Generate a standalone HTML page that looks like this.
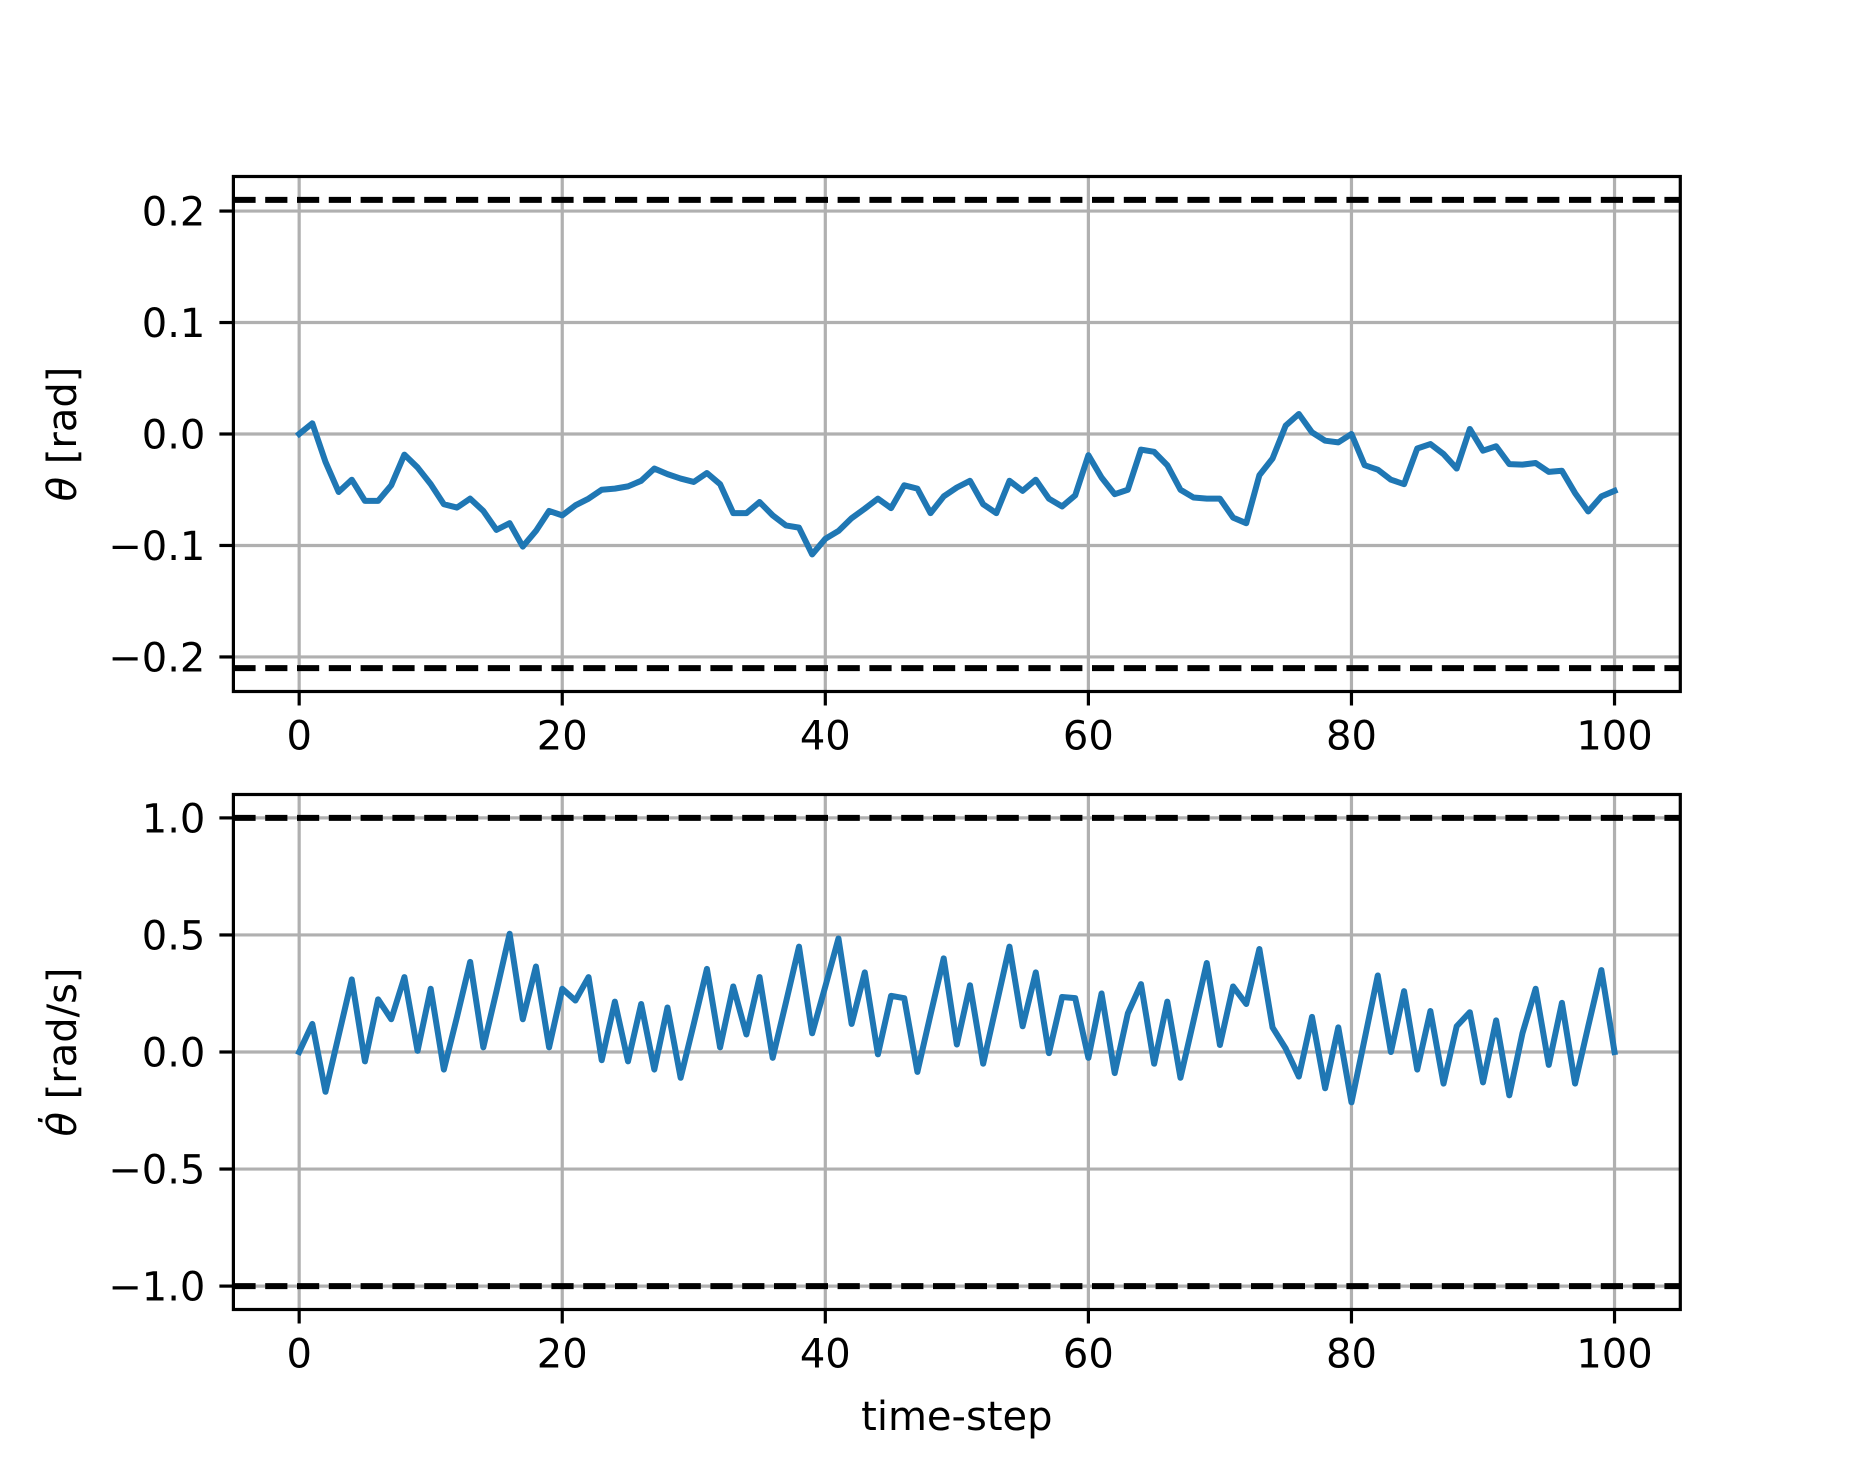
<!DOCTYPE html>
<html><head><meta charset="utf-8"><style>
html,body{margin:0;padding:0;background:#fff;}
svg{display:block;font-family:"DejaVu Sans","Liberation Sans",sans-serif;}
</style></head><body>
<svg id="fig" width="1867" height="1471" viewBox="0 0 1867 1471" xmlns="http://www.w3.org/2000/svg">
<rect width="1867" height="1471" fill="#fff"/>
</svg>
<script>
const steps = Array.from({length:101},(_,i)=>i);
const thetaValues = [0,0.0096,-0.025,-0.052,-0.041,-0.060,-0.060,-0.046,-0.0185,-0.030,-0.045,-0.063,-0.066,-0.058,-0.069,-0.086,-0.080,-0.101,-0.087,-0.069,-0.073,-0.064,-0.058,-0.050,-0.049,-0.047,-0.042,-0.031,-0.036,-0.040,-0.043,-0.035,-0.045,-0.071,-0.071,-0.061,-0.073,-0.082,-0.084,-0.108,-0.094,-0.087,-0.0755,-0.067,-0.058,-0.0665,-0.046,-0.049,-0.071,-0.056,-0.048,-0.042,-0.063,-0.071,-0.042,-0.051,-0.041,-0.058,-0.065,-0.055,-0.019,-0.039,-0.054,-0.050,-0.014,-0.016,-0.028,-0.050,-0.057,-0.058,-0.058,-0.075,-0.080,-0.037,-0.022,0.0075,0.018,0.0015,-0.006,-0.0075,0,-0.028,-0.032,-0.041,-0.045,-0.013,-0.009,-0.018,-0.031,0.0045,-0.015,-0.011,-0.027,-0.0275,-0.026,-0.034,-0.033,-0.053,-0.0695,-0.056,-0.051];
const thetaDotValues = [0,0.12,-0.17,0.07,0.31,-0.04,0.225,0.14,0.32,0.005,0.27,-0.075,0.15,0.385,0.02,0.26,0.505,0.14,0.365,0.02,0.27,0.22,0.32,-0.035,0.215,-0.04,0.205,-0.075,0.19,-0.11,0.12,0.355,0.02,0.28,0.075,0.32,-0.025,0.21,0.45,0.08,0.28,0.485,0.12,0.34,-0.01,0.24,0.23,-0.085,0.16,0.40,0.032,0.285,-0.05,0.2,0.45,0.11,0.34,-0.005,0.235,0.23,-0.025,0.25,-0.09,0.165,0.29,-0.05,0.215,-0.11,0.135,0.38,0.03,0.28,0.205,0.44,0.105,0.015,-0.105,0.15,-0.155,0.105,-0.215,0.055,0.327,0,0.26,-0.075,0.175,-0.135,0.11,0.17,-0.13,0.135,-0.185,0.08,0.27,-0.055,0.21,-0.135,0.11,0.35,0];
const xTicks = [0,20,40,60,80,100];
const thetaTicks = [-0.2,-0.1,0,0.1,0.2];
const thetaTickLabels = ["\u22120.2","\u22120.1","0.0","0.1","0.2"];
const thetaDotTicks = [-1,-0.5,0,0.5,1];
const thetaDotTickLabels = ["\u22121.0","\u22120.5","0.0","0.5","1.0"];
const thetaLimits = [-0.21,0.21];
const thetaDotLimits = [-1,1];

const NS="http://www.w3.org/2000/svg";
const svg=document.getElementById('fig');
function mk(tag,attrs,parent){const e=document.createElementNS(NS,tag);for(const k in attrs)e.setAttribute(k,attrs[k]);(parent||svg).appendChild(e);return e;}

const L=233.4,R=1680.3;
function panel(name,top,bot,ylo,yhi,yTicks,yLabels,vals,limits,ylabel){
  const g=mk('g',{});
  
  
  const xs=v=>L+(v+5)/110*(R-L);
  const ys=v=>bot-(v-ylo)/(yhi-ylo)*(bot-top);
  // grid
  xTicks.forEach(t=>{const l=mk('line',{x1:xs(t),x2:xs(t),y1:top,y2:bot,stroke:'#b0b0b0','stroke-width':3.2},g);
    
    });
  yTicks.forEach(t=>{const l=mk('line',{x1:L,x2:R,y1:ys(t),y2:ys(t),stroke:'#b0b0b0','stroke-width':3.2},g);
    
    });
  // limit lines
  limits.forEach(v=>{const l=mk('line',{x1:L,x2:R,y1:ys(v),y2:ys(v),stroke:'#000','stroke-width':6,'stroke-dasharray':'22.2 9.6'},g);
    
    });
  // series
  const d=vals.map((v,i)=>(i?'L':'M')+xs(steps[i]).toFixed(2)+' '+ys(v).toFixed(2)).join(' ');
  const p=mk('path',{d:d,fill:'none',stroke:'#1f77b4','stroke-width':6,'stroke-linejoin':'round','stroke-linecap':'square'},g);
  
  
  // frame
  const f=mk('rect',{x:L,y:top,width:R-L,height:bot-top,fill:'none',stroke:'#000','stroke-width':3.2},g);
  
  
  // x ticks
  xTicks.forEach(t=>{mk('line',{x1:xs(t),x2:xs(t),y1:bot,y2:bot+14,stroke:'#000','stroke-width':3.2},g);
    const tx=mk('text',{x:xs(t),y:bot+28+30,'font-size':40,'text-anchor':'middle',fill:'#000'},g);
    tx.textContent=t;
    
    });
  yTicks.forEach((t,i)=>{mk('line',{x1:L-14,x2:L,y1:ys(t),y2:ys(t),stroke:'#000','stroke-width':3.2},g);
    const tx=mk('text',{x:L-28,y:ys(t)+14.5,'font-size':40,'text-anchor':'end',fill:'#000'},g);
    tx.textContent=yLabels[i];
    
    });
  const yl=mk('text',{x:0,y:0,'font-size':40,'text-anchor':'middle',transform:`translate(76 ${(top+bot)/2}) rotate(-90)`,fill:'#000'},g);
  yl.innerHTML=ylabel;
  
  
}
panel('theta-panel',176.5,691.5,-0.231,0.231,thetaTicks,thetaTickLabels,thetaValues,thetaLimits,'<tspan font-style="italic">θ</tspan> [rad]');
panel('theta-dot-panel',794.5,1309.5,-1.1,1.1,thetaDotTicks,thetaDotTickLabels,thetaDotValues,thetaDotLimits,'<tspan font-style="italic">θ̇</tspan> [rad/s]');
const xl=mk('text',{x:(L+R)/2,y:1430,'font-size':40,'text-anchor':'middle',fill:'#000'});
xl.textContent='time-step';


</script>
</body></html>
